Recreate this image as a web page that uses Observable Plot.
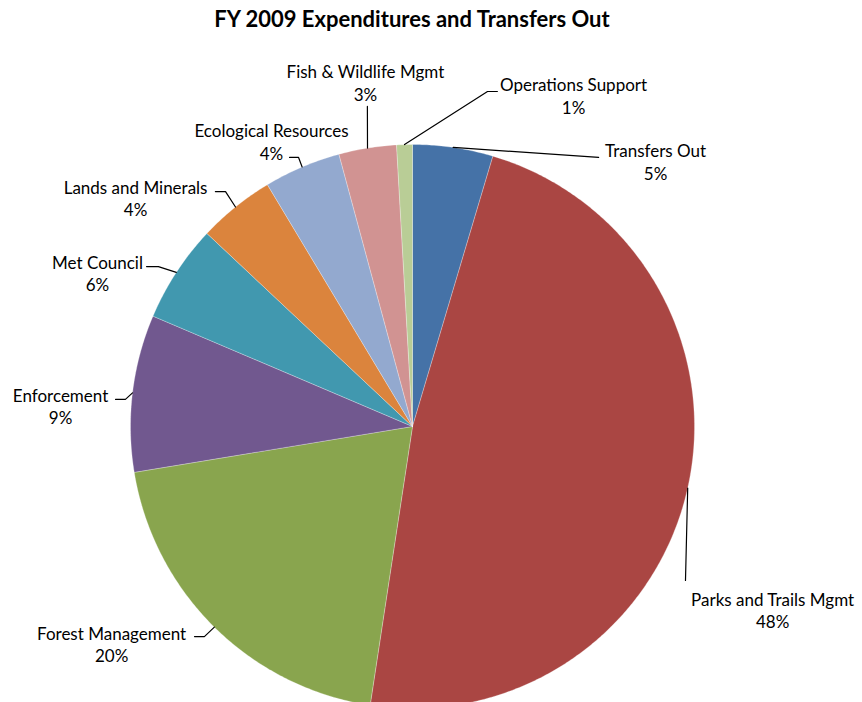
<!DOCTYPE html>
<html>
<head>
<meta charset="utf-8">
<script src="https://cdn.jsdelivr.net/npm/d3@7"></script>
<script src="https://cdn.jsdelivr.net/npm/@observablehq/plot@0.6"></script>
<style>
  html, body { margin: 0; padding: 0; background: #fff; }
  #title { width: 824px; height: 36px; line-height: 38px; text-align: center;
           font-family: Lato, "Open Sans", sans-serif; font-weight: bold; font-size: 22px; color: #000; }
</style>
</head>
<body>
<div id="title">FY 2009 Expenditures and Transfers Out</div>
<div id="chart"></div>
<script>
// Data (clockwise from 12 o'clock)
const categories = ["Transfers Out", "Parks and Trails Mgmt", "Forest Management", "Enforcement",
  "Met Council", "Lands and Minerals", "Ecological Resources", "Fish & Wildlife Mgmt", "Operations Support"];
const values = [4.6, 47.8, 20.0, 9.0, 5.6, 4.4, 4.4, 3.3, 0.9];
const colors = ["#4572A7", "#AA4643", "#89A54E", "#71588F", "#4198AF", "#DB843D", "#93A9CF", "#D19392", "#B9CD96"];

// Label layout in pie-radius units (origin = pie centre, y up): [labelX, labelY, elbowX, elbowY, tailX]
const labelLayout = [
  [0.862, 0.940, 0.660, 0.954, 0.660],
  [1.277, -0.649, 0.968, -0.546, 0.968],
  [-1.067, -0.770, -0.738, -0.745, -0.773],
  [-1.248, 0.074, -1.018, 0.096, -1.053],
  [-1.117, 0.543, -0.901, 0.567, -0.943],
  [-0.982, 0.812, -0.663, 0.833, -0.699],
  [-0.500, 1.011, -0.404, 0.954, -0.436],
  [-0.167, 1.220, -0.160, 1.135, -0.160],
  [0.571, 1.174, 0.266, 1.188, 0.301]
];

const total = d3.sum(values);
const pie = d3.pie().sort(null).value(d => d)(values);

// slice polygons
const slicePts = [];
pie.forEach((p, i) => {
  const name = categories[i];
  slicePts.push({name, x: 0, y: 0});
  const n = Math.max(2, Math.ceil((p.endAngle - p.startAngle) / (Math.PI / 360)));
  for (let k = 0; k <= n; k++) {
    const a = p.startAngle + (p.endAngle - p.startAngle) * k / n;
    slicePts.push({name, x: Math.sin(a), y: Math.cos(a)});
  }
  slicePts.push({name, x: 0, y: 0});
});

// leader lines and labels
const leaderPts = [];
const labels = [];
pie.forEach((p, i) => {
  const name = categories[i];
  const mid = (p.startAngle + p.endAngle) / 2;
  const [lx, ly, ex, ey, tx] = labelLayout[i];
  leaderPts.push({name, x: Math.sin(mid), y: Math.cos(mid)});
  leaderPts.push({name, x: ex, y: ey});
  leaderPts.push({name, x: tx, y: ey});
  labels.push({name, x: lx, y: ly, text: name + "\n" + Math.round(values[i] / total * 100) + "%"});
});

const W = 862, H = 666;
const cx = 412, cy = 390, R = 282;

const chart = Plot.plot({
  width: W,
  height: H,
  margin: 0,
  x: {domain: [-cx / R, (W - cx) / R], axis: null},
  y: {domain: [-(H - cy) / R, cy / R], axis: null},
  color: {domain: categories, range: colors},
  style: {fontFamily: "Lato, 'Open Sans', sans-serif", fontSize: "17px", background: "#fff", color: "#000"},
  marks: [
    Plot.line(slicePts, {x: "x", y: "y", z: "name", fill: "name", stroke: "#fff", strokeOpacity: 0.45, strokeWidth: 0.6, curve: "linear"}),
    Plot.line(leaderPts, {x: "x", y: "y", z: "name", stroke: "#000", strokeWidth: 1.2, curve: "linear"}),
    Plot.text(labels, {x: "x", y: "y", text: "text", textAnchor: "middle", lineAnchor: "middle", lineHeight: 1.3, fill: "#000", fontSize: 17})
  ]
});
document.getElementById("chart").appendChild(chart);
</script>
</body>
</html>
